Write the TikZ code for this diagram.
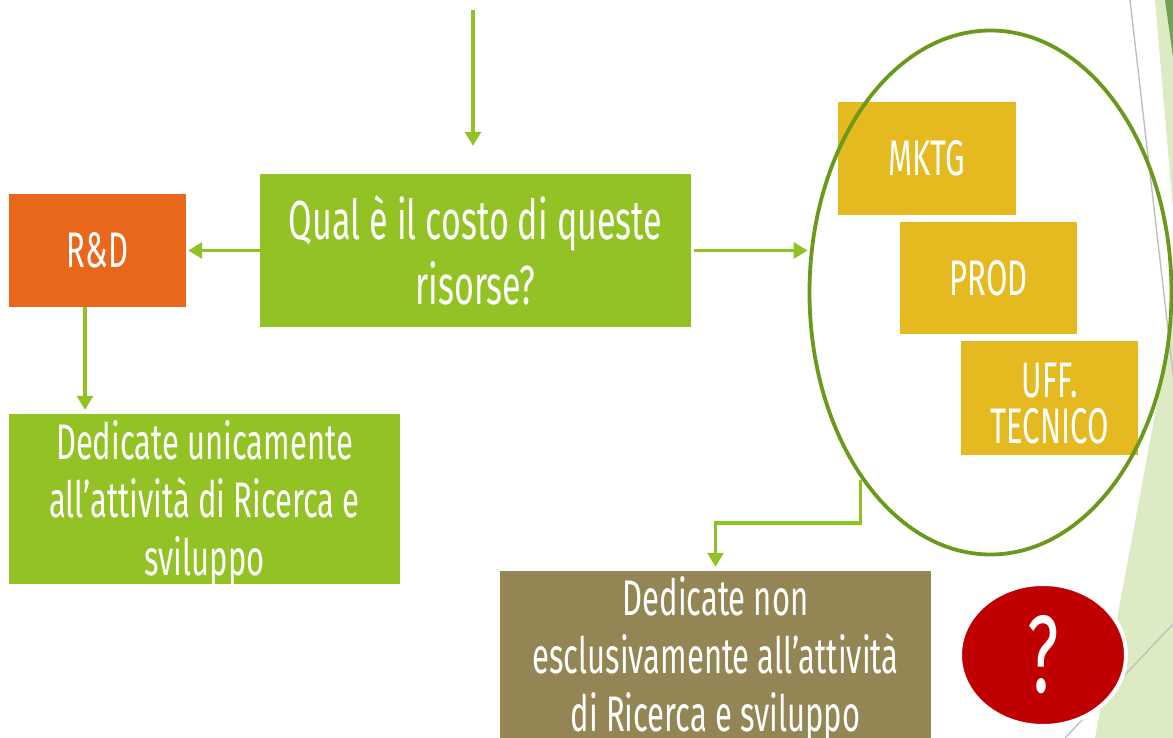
\documentclass[tikz,border=0pt]{standalone}
\usepackage{fontspec}
\setmainfont{Fira Sans}[FakeStretch=0.62]
\usetikzlibrary{arrows.meta,shapes.geometric}
\definecolor{lgreen}{HTML}{93C225}
\definecolor{arrgreen}{HTML}{8FC224}
\definecolor{orng}{HTML}{E8671A}
\definecolor{yel}{HTML}{E5B920}
\definecolor{khaki}{HTML}{948654}
\definecolor{olive}{HTML}{6B991C}
\definecolor{qred}{HTML}{C00000}
\definecolor{bglight}{HTML}{DDEBC5}
\definecolor{bgdark}{HTML}{70A156}
\definecolor{greyln}{HTML}{BFBFBF}
\tikzset{
  box/.style={rectangle, inner sep=0pt, text=white, align=center},
  txt/.style={inner sep=0pt, text=white, align=center},
  arr/.style={draw=arrgreen, line width=3.2pt, -{Triangle[width=16pt,length=14pt]}},
  fbig/.style={font=\fontsize{55}{65}\selectfont},
  fmid/.style={font=\fontsize{50}{58}\selectfont},
  fsm/.style={font=\fontsize{50}{46}\selectfont},
}
\begin{document}
\begin{tikzpicture}[x=1pt,y=-1pt]
\useasboundingbox (0,0) rectangle (1173,738);
% background decoration
\fill[bglight] (1155,0) -- (1173,0) -- (1173,210) -- cycle;
\fill[bgdark] (1165,0) -- (1173,0) -- (1173,57) -- cycle;
\fill[bglight] (1178,290) -- (1095,738) -- (1173,738) -- cycle;
\draw[greyln, line width=1.4pt] (1130,0) -- (1175,390);
\draw[greyln, line width=1.4pt] (1175,622) -- (1065,738);

% boxes
\node[box, fill=lgreen, minimum width=431, minimum height=153, fbig] (Q) at (475.5,250.5) {Qual è il costo di queste\\risorse?};
\node[box, fill=orng, minimum width=177, minimum height=113, fsm] (RD) at (97.5,250.5) {R\&D};
\node[box, fill=lgreen, minimum width=391, minimum height=170] (G) at (204.5,499) {};
\node[txt, fmid] (Gt) at ([yshift=-4pt]G.center) {Dedicate unicamente\\all’attività di Ricerca e\\sviluppo};
\node[box, fill=khaki, minimum width=431, minimum height=176, fmid] (K) at (715.5,659) {Dedicate non\\esclusivamente all’attività\\di Ricerca e sviluppo};
\node[box, fill=yel, minimum width=178, minimum height=113, fsm] (M) at (927,158.5) {MKTG};
\node[box, fill=yel, minimum width=177, minimum height=112, fsm] (P) at (988.5,278) {PROD};
\node[box, fill=yel, minimum width=177, minimum height=114] (U) at (1049.5,398) {};
\node[txt, fsm] (Ut) at ([yshift=-6pt]U.center) {UFF.\\TECNICO};

% ellipse group
\node[ellipse, draw=olive, line width=3.8pt, inner sep=0pt, minimum width=362, minimum height=524] (E) at (990.5,292.5) {};

% question circle
\node[ellipse, fill=qred, draw=white, line width=4pt, minimum width=166, minimum height=142, inner sep=0pt, text=white, font=\fontsize{110}{110}\selectfont] (QM) at (1043,655) {?};

% connectors
\coordinate (top) at (473,10);
\draw[arr, shorten >=28pt] (top) -- (top |- Q.north);
\draw[arr, shorten >=2pt] (Q.west) -- (RD.east);
\draw[arr, shorten <=3pt] (Q.east) -- (Q.east -| E.west);
\draw[arr, shorten >=4pt] ([xshift=-12.5pt]RD.south) coordinate (rdb) -- (rdb |- G.north);
\draw[arr, shorten >=4pt, shorten <=1.5pt] (E.235.5) coordinate (es) -- (es |- 0,523) -| (K.north);
\end{tikzpicture}
\end{document}
